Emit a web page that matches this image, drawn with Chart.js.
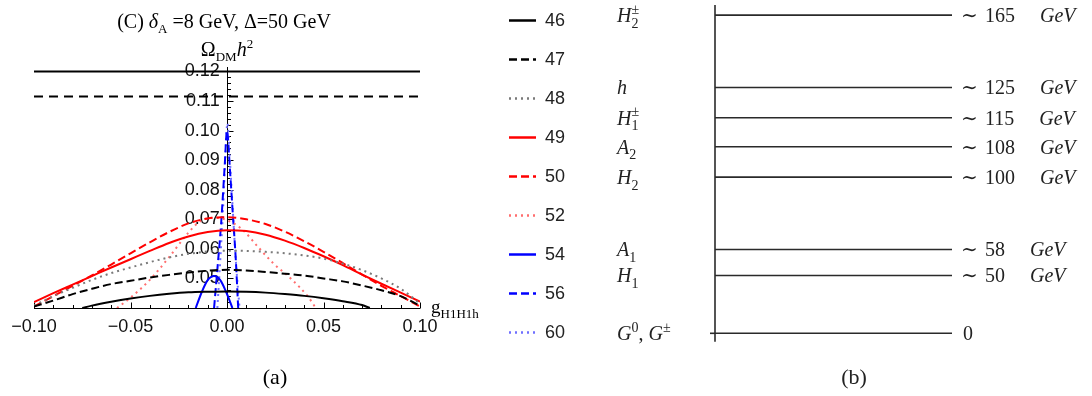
<!DOCTYPE html>
<html><head><meta charset="utf-8">
<script src="https://cdn.jsdelivr.net/npm/chart.js@4.4.1/dist/chart.umd.min.js"></script>
<style>
html,body{margin:0;padding:0;background:#fff;width:1092px;height:396px;overflow:hidden;}
#wrap{position:relative;width:1092px;height:396px;}
canvas{position:absolute;top:0;}
#cA{left:0;} #cB{left:590px;}
</style></head><body>
<div id="wrap"><canvas id="cA" width="590" height="396"></canvas><canvas id="cB" width="502" height="396"></canvas></div>
<script>
// ---------------- DATA: panel (a) ----------------
const seriesLabels = ['46','47','48','49','50','52','54','56','60'];
const gGrid = [-0.10,-0.09,-0.08,-0.07,-0.06,-0.05,-0.04,-0.03,-0.02,-0.01,0.00,0.01,0.02,0.03,0.04,0.05,0.06,0.07,0.08,0.09,0.10];
const omega47 = [0.0405,0.0425,0.0447,0.0465,0.0481,0.0492,0.0503,0.0512,0.0520,0.0526,0.0529,0.0527,0.0522,0.0516,0.0510,0.0500,0.0490,0.0476,0.0460,0.0440,0.0408];
const omega48 = [0.0408,0.0440,0.0468,0.0495,0.0518,0.0537,0.0555,0.0571,0.0583,0.0591,0.0594,0.0593,0.0590,0.0585,0.0578,0.0567,0.0550,0.0528,0.0500,0.0465,0.0415];
const omega49 = [0.0420,0.0450,0.0479,0.0508,0.0537,0.0565,0.0593,0.0620,0.0642,0.0657,0.0663,0.0660,0.0648,0.0628,0.0603,0.0575,0.0545,0.0513,0.0482,0.0452,0.0422];
const omega50 = [0.0405,0.0440,0.0475,0.0510,0.0547,0.0585,0.0622,0.0657,0.0686,0.0703,0.0707,0.0700,0.0684,0.0658,0.0626,0.0590,0.0552,0.0513,0.0475,0.0440,0.0405];
const g46 = [-0.075,-0.07,-0.06,-0.05,-0.04,-0.03,-0.02,-0.01,0.00,0.01,0.02,0.03,0.04,0.05,0.06,0.07,0.074];
const omega46 = [0.0400,0.0408,0.0421,0.0432,0.0441,0.0448,0.0453,0.0455,0.0456,0.0455,0.0452,0.0447,0.0441,0.0433,0.0423,0.0410,0.0400];
const g52 = [-0.057,-0.05,-0.04,-0.03,-0.02,-0.014,-0.007,0.000,0.008,0.016,0.024,0.033,0.042,0.046];
const omega52 = [0.0400,0.0435,0.0495,0.0572,0.0655,0.0693,0.0705,0.0697,0.0665,0.0607,0.0551,0.0500,0.0438,0.0400];
const g54 = [-0.0162,-0.013,-0.010,-0.0067,-0.0035,-0.0005,0.0028];
const omega54 = [0.0400,0.0455,0.0494,0.0508,0.0494,0.0455,0.0400];
const g56 = [-0.0067,-0.005,-0.003,-0.0012,0.0000,0.0015,0.003,0.0045,0.0058];
const omega56 = [0.0400,0.0530,0.0690,0.0880,0.1000,0.0870,0.0720,0.0570,0.0400];
const g60 = [-0.0050,-0.0035,-0.0020,-0.0008,0.0002,0.0015,0.0030,0.0048,0.0065];
const omega60 = [0.0400,0.0560,0.0740,0.0920,0.1025,0.0900,0.0730,0.0540,0.0400];
const refLevels = [0.1200, 0.1115];   // horizontal reference lines (solid, dashed)
const refRange = [-0.10, 0.10];
const xTickValues = [-0.10, -0.05, 0.00, 0.05, 0.10];
const yTickValues = [0.05, 0.06, 0.07, 0.08, 0.09, 0.10, 0.11, 0.12];

// ---------------- DATA: panel (b) ----------------
const levelNames = ['H_2^±','h','H_1^±','A_2','H_2','A_1','H_1','G^0, G^±'];
const levelMass  = [165, 125, 115, 108, 100, 58, 50, 0];
const levelRank  = [11.0, 8.5, 7.45, 6.45, 5.4, 2.9, 2.0, 0.0]; // schematic (not-to-scale) height on the diagram

// ---------------- helpers ----------------
const SERIF = '"Liberation Serif","DejaVu Serif",serif';
const SANS = '"Liberation Sans","DejaVu Sans",sans-serif';
const pts = (xs, ys) => xs.map((x, i) => ({x, y: ys[i]}));

function measureParts(ctx, parts){
  let w = 0;
  for (const p of parts){
    if (p.script){
      ctx.font = p.font; let m = 0;
      if (p.sub) m = Math.max(m, ctx.measureText(p.sub).width);
      if (p.sup) m = Math.max(m, ctx.measureText(p.sup).width);
      w += m;
    } else { ctx.font = p.font; w += ctx.measureText(p.t).width; }
  }
  return w;
}
function drawParts(ctx, parts, x, y, size){
  ctx.textBaseline = 'alphabetic'; ctx.textAlign = 'left';
  for (const p of parts){
    if (p.script){
      ctx.font = p.font; let m = 0;
      if (p.sub){ ctx.fillText(p.sub, x, y + size*0.27); m = Math.max(m, ctx.measureText(p.sub).width); }
      if (p.sup){ ctx.fillText(p.sup, x, y - size*0.42); m = Math.max(m, ctx.measureText(p.sup).width); }
      x += m;
    } else { ctx.font = p.font; ctx.fillText(p.t, x, y); x += ctx.measureText(p.t).width; }
  }
  return x;
}
function mathParts(s, size){
  const it = `italic ${size}px ${SERIF}`, up = `${size}px ${SERIF}`, sm = `${Math.round(size*0.7)}px ${SERIF}`;
  const parts = []; let i = 0;
  while (i < s.length){
    const c = s[i];
    if (c === '_' || c === '^'){
      let sub = null, sup = null;
      while (i < s.length && (s[i] === '_' || s[i] === '^')){ if (s[i] === '_') sub = s[i+1]; else sup = s[i+1]; i += 2; }
      parts.push({script:true, sub, sup, font: sm});
    } else { parts.push({t:c, font: /[A-Za-z]/.test(c) ? it : up}); i++; }
  }
  return parts;
}

// ---------------- panel (a) ----------------
const styleA = [
  {c:'#000000', d:[]}, {c:'#000000', d:[8,4]}, {c:'#7a7a7a', d:[2,4]},
  {c:'#ff0000', d:[]}, {c:'#ff0000', d:[8,4]}, {c:'#ff6e6e', d:[2,4]},
  {c:'#0000ff', d:[]}, {c:'#0000ff', d:[8,4]}, {c:'#6f6fff', d:[2,4]}
];
const seriesPts = [pts(g46,omega46), pts(gGrid,omega47), pts(gGrid,omega48), pts(gGrid,omega49),
  pts(gGrid,omega50), pts(g52,omega52), pts(g54,omega54), pts(g56,omega56), pts(g60,omega60)];
const dsA = seriesPts.map((data, i) => ({
  label: seriesLabels[i], data, borderColor: styleA[i].c, borderDash: styleA[i].d,
  borderWidth: 2, pointRadius: 0, cubicInterpolationMode: 'monotone', fill: false, inLegend: true
}));
refLevels.forEach((v, i) => dsA.push({
  label: 'ref' + i, data: refRange.map(x => ({x, y: v})), borderColor: '#000',
  borderDash: i === 0 ? [] : [9,6], borderWidth: 2, pointRadius: 0, fill: false, inLegend: false
}));

const yMinA = 0.04, yMaxA = 0.1215;
const fmtX = v => { const r = Math.round(v*100)/100; return (r < 0 ? '\u2212' : '') + Math.abs(r).toFixed(2); };

const axesA = {
  id: 'axesA',
  beforeDatasetsDraw(chart){
    const {ctx, chartArea: a, scales: {x, y}} = chart;
    ctx.save(); ctx.strokeStyle = '#000'; ctx.lineWidth = 1;
    const y0 = Math.round(y.getPixelForValue(yMinA)) + 0.5;
    const x0 = Math.round(x.getPixelForValue(0)) + 0.5;
    ctx.beginPath(); ctx.moveTo(a.left, y0); ctx.lineTo(a.right, y0); ctx.stroke();
    for (let k = -10; k <= 10; k++){
      const px = Math.round(x.getPixelForValue(k/100)) + 0.5; const len = k % 5 === 0 ? 6 : 3.5;
      ctx.beginPath(); ctx.moveTo(px, y0); ctx.lineTo(px, y0 - len); ctx.stroke();
    }
    ctx.beginPath(); ctx.moveTo(x0, y0); ctx.lineTo(x0, a.top); ctx.stroke();
    for (let k = 20; k * 0.002 <= yMaxA + 1e-9; k++){
      const py = Math.round(y.getPixelForValue(k*0.002)) + 0.5; const len = k % 5 === 0 ? 6 : 3.5;
      ctx.beginPath(); ctx.moveTo(x0, py); ctx.lineTo(x0 + len, py); ctx.stroke();
    }
    ctx.restore();
  },
  afterDraw(chart){
    const {ctx, chartArea: a, scales: {x, y}} = chart;
    ctx.save(); ctx.fillStyle = '#000';
    const tParts = [{t:'(C) ', font:`20px ${SERIF}`}, {t:'δ', font:`italic 20px ${SERIF}`},
      {script:true, sub:'A', font:`13px ${SERIF}`}, {t:' =8 GeV, Δ=50 GeV', font:`20px ${SERIF}`}];
    const cx = x.getPixelForValue(0);
    drawParts(ctx, tParts, cx - measureParts(ctx, tParts)/2 - 3, 28, 20);
    const oParts = [{t:'Ω', font:`20px ${SERIF}`}, {script:true, sub:'DM', font:`13px ${SERIF}`},
      {t:'h', font:`italic 20px ${SERIF}`}, {script:true, sup:'2', font:`13px ${SERIF}`}];
    drawParts(ctx, oParts, cx - measureParts(ctx, oParts)/2, 56, 20);
    const gParts = [{t:'g', font:`19px ${SERIF}`}, {script:true, sub:'H1H1h', font:`13px ${SERIF}`}];
    drawParts(ctx, gParts, a.right + 11, 313, 19);
    ctx.font = `22px ${SERIF}`; ctx.textAlign = 'center'; ctx.textBaseline = 'alphabetic';
    ctx.fillText('(a)', 275, 384);
    const items = chart.data.datasets.filter(d => d.inLegend);
    items.forEach((d, i) => {
      const ly = 20 + i * 39;
      ctx.save(); ctx.strokeStyle = d.borderColor; ctx.lineWidth = 2.5; ctx.setLineDash(d.borderDash);
      ctx.beginPath(); ctx.moveTo(509, ly + 0.5); ctx.lineTo(536, ly + 0.5); ctx.stroke(); ctx.restore();
      ctx.font = `18px ${SANS}`; ctx.fillStyle = '#222'; ctx.textAlign = 'left'; ctx.textBaseline = 'middle';
      ctx.fillText(d.label, 545, ly + 1);
    });
    ctx.restore();
  }
};

new Chart(document.getElementById('cA'), {
  type: 'line',
  data: {datasets: dsA},
  options: {
    responsive: false, animation: false, devicePixelRatio: 1,
    layout: {padding: {left: 34, right: 170, top: 67, bottom: 48}},
    plugins: {legend: {display: false}, tooltip: {enabled: false}},
    scales: {
      x: {type: 'linear', min: -0.1, max: 0.1, position: 'bottom',
        grid: {display: false, drawTicks: false}, border: {display: false},
        afterBuildTicks: s => { s.ticks = xTickValues.map(value => ({value})); },
        ticks: {padding: 8, color: '#111', font: {family: SANS, size: 18},
          maxRotation: 0, autoSkip: false, callback: v => fmtX(v)},
        afterFit: s => { s.height = 40; }},
      y: {type: 'linear', min: yMinA, max: yMaxA, position: {x: 0},
        grid: {display: false, drawTicks: false}, border: {display: false},
        afterBuildTicks: s => { s.ticks = yTickValues.map(value => ({value})); },
        ticks: {color: '#111', font: {family: SANS, size: 18}, autoSkip: false,
          callback: v => v.toFixed(2) + '\u2009\u2009'}}
    }
  },
  plugins: [axesA]
});

// ---------------- panel (b) ----------------
const dsB = levelRank.map((r, i) => ({
  label: levelNames[i], data: [{x: 0, y: r}, {x: 1, y: r}],
  borderColor: '#2a2a2a', borderWidth: 1.6, pointRadius: 0, fill: false
}));
const levelsB = {
  id: 'levelsB',
  afterDraw(chart){
    const {ctx, chartArea: a, scales: {x, y}} = chart;
    ctx.save(); ctx.strokeStyle = '#2a2a2a'; ctx.lineWidth = 1.6;
    const x0 = x.getPixelForValue(0);
    ctx.beginPath(); ctx.moveTo(x0, a.top); ctx.lineTo(x0, a.bottom); ctx.stroke();
    const yz = y.getPixelForValue(0);
    ctx.beginPath(); ctx.moveTo(x0 - 5, yz); ctx.lineTo(x0, yz); ctx.stroke();
    ctx.fillStyle = '#222';
    const xr = x.getPixelForValue(1);
    levelRank.forEach((r, i) => {
      const py = y.getPixelForValue(r) + 7;
      drawParts(ctx, mathParts(levelNames[i], 20), 27, py, 20);
      ctx.font = `20px ${SERIF}`; ctx.textAlign = 'left'; ctx.textBaseline = 'alphabetic';
      if (levelMass[i] === 0){ ctx.fillText('0', xr + 11, py); return; }
      ctx.fillText('\u223C', xr + 9, py);
      const num = String(levelMass[i]);
      ctx.fillText(num, xr + 33, py);
      const w = ctx.measureText(num).width;
      ctx.font = `italic 20px ${SERIF}`;
      ctx.fillText('GeV', xr + 33 + w + 25, py);
    });
    ctx.font = `22px ${SERIF}`; ctx.textAlign = 'center';
    ctx.fillText('(b)', 264, 384);
    ctx.restore();
  }
};
new Chart(document.getElementById('cB'), {
  type: 'line',
  data: {datasets: dsB},
  options: {
    responsive: false, animation: false, devicePixelRatio: 1,
    layout: {padding: {left: 125, right: 140, top: 5, bottom: 54.3}},
    plugins: {legend: {display: false}, tooltip: {enabled: false}},
    scales: {
      x: {type: 'linear', min: 0, max: 1, display: false},
      y: {type: 'linear', min: -0.29, max: 11.35, display: false}
    }
  },
  plugins: [levelsB]
});
</script>
</body></html>
